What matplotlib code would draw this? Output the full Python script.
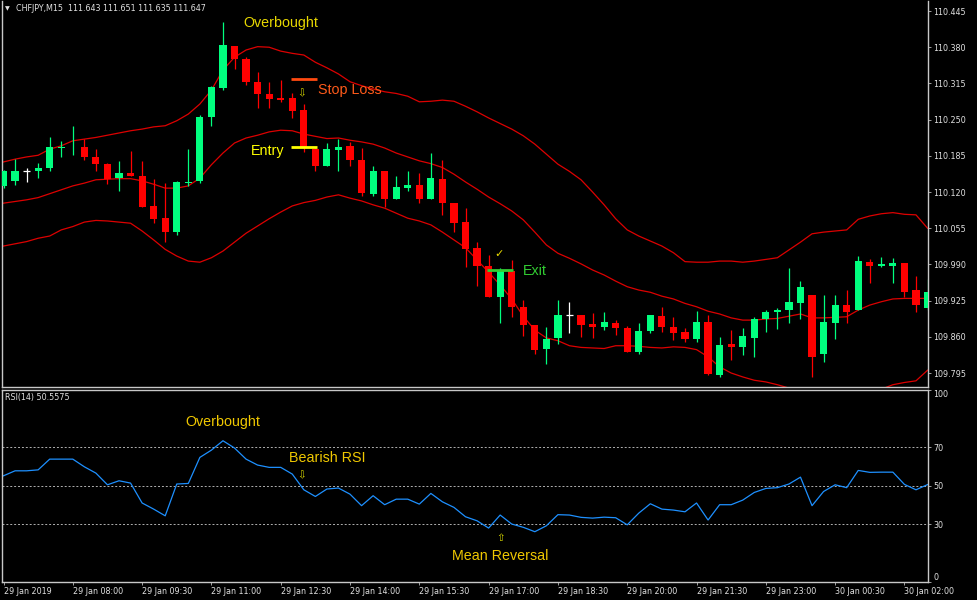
import numpy as np
import matplotlib.pyplot as plt

# CHFJPY M15 candles (open, high, low, close), bar 0 = 29 Jan 06:30
opens = [110.131, 110.139, 110.158, 110.157, 110.164, 110.199, 110.200, 110.201, 110.183, 110.171,
         110.146, 110.155, 110.149, 110.095, 110.073, 110.049, 110.137, 110.139, 110.255, 110.306,
         110.383, 110.359, 110.318, 110.296, 110.288, 110.288, 110.267, 110.197, 110.167, 110.196,
         110.203, 110.178, 110.116, 110.158, 110.107, 110.128, 110.133, 110.107, 110.143, 110.100,
         110.067, 110.020, 109.987, 109.932, 109.978, 109.913, 109.881, 109.838, 109.857, 109.899,
         109.899, 109.883, 109.878, 109.885, 109.876, 109.833, 109.871, 109.898, 109.877, 109.869,
         109.856, 109.887, 109.792, 109.847, 109.842, 109.858, 109.892, 109.904, 109.908, 109.921,
         109.935, 109.830, 109.885, 109.917, 109.908, 109.994, 109.988, 109.988, 109.992, 109.944,
         109.911]
highs = [110.160, 110.179, 110.163, 110.172, 110.219, 110.212, 110.239, 110.215, 110.197, 110.172,
         110.176, 110.194, 110.176, 110.143, 110.136, 110.140, 110.197, 110.258, 110.310, 110.426,
         110.383, 110.363, 110.336, 110.318, 110.322, 110.297, 110.278, 110.199, 110.208, 110.215,
         110.210, 110.199, 110.166, 110.158, 110.149, 110.158, 110.154, 110.190, 110.177, 110.100,
         110.092, 110.031, 110.007, 109.983, 109.998, 109.926, 109.881, 109.878, 109.927, 109.922,
         109.899, 109.903, 109.904, 109.891, 109.879, 109.885, 109.899, 109.914, 109.896, 109.876,
         109.906, 109.899, 109.860, 109.872, 109.875, 109.896, 109.908, 109.911, 109.983, 109.960,
         109.935, 109.935, 109.935, 109.944, 110.006, 110.000, 110.003, 110.001, 109.992, 109.969,
         109.964]
lows = [110.127, 110.133, 110.138, 110.145, 110.157, 110.183, 110.186, 110.177, 110.158, 110.134,
        110.121, 110.148, 110.093, 110.064, 110.031, 110.042, 110.130, 110.136, 110.239, 110.303,
        110.341, 110.312, 110.271, 110.271, 110.282, 110.253, 110.191, 110.158, 110.166, 110.158,
        110.166, 110.112, 110.112, 110.094, 110.107, 110.122, 110.101, 110.107, 110.079, 110.049,
        109.986, 109.951, 109.932, 109.884, 109.896, 109.862, 109.830, 109.811, 109.848, 109.866,
        109.859, 109.857, 109.872, 109.863, 109.833, 109.829, 109.866, 109.869, 109.854, 109.851,
        109.851, 109.791, 109.787, 109.818, 109.827, 109.824, 109.869, 109.874, 109.885, 109.892,
        109.787, 109.815, 109.856, 109.885, 109.908, 109.956, 109.986, 109.957, 109.932, 109.905,
        109.908]
closes = [110.157, 110.157, 110.158, 110.163, 110.200, 110.201, 110.201, 110.183, 110.171, 110.143,
          110.155, 110.149, 110.093, 110.071, 110.049, 110.138, 110.138, 110.255, 110.308, 110.384,
          110.359, 110.318, 110.296, 110.287, 110.285, 110.266, 110.200, 110.166, 110.197, 110.200,
          110.178, 110.118, 110.158, 110.107, 110.129, 110.133, 110.108, 110.146, 110.101, 110.065,
          110.017, 109.987, 109.932, 109.978, 109.913, 109.881, 109.836, 109.856, 109.899, 109.899,
          109.881, 109.878, 109.886, 109.875, 109.833, 109.871, 109.899, 109.877, 109.866, 109.856,
          109.887, 109.794, 109.845, 109.842, 109.861, 109.892, 109.904, 109.909, 109.922, 109.950,
          109.824, 109.887, 109.918, 109.904, 109.996, 109.988, 109.991, 109.992, 109.941, 109.918,
          109.941]

# Bollinger bands as drawn
bb_upper = [110.174, 110.179, 110.183, 110.186, 110.197, 110.203, 110.212, 110.215, 110.218, 110.222,
            110.226, 110.230, 110.233, 110.237, 110.239, 110.248, 110.260, 110.278, 110.303, 110.339,
            110.362, 110.375, 110.381, 110.380, 110.373, 110.369, 110.366, 110.353, 110.343, 110.332,
            110.318, 110.311, 110.305, 110.300, 110.297, 110.292, 110.282, 110.283, 110.285, 110.283,
            110.274, 110.264, 110.253, 110.243, 110.233, 110.221, 110.206, 110.188, 110.170, 110.157,
            110.142, 110.120, 110.097, 110.072, 110.052, 110.041, 110.032, 110.023, 110.011, 109.995,
            109.994, 109.994, 109.996, 109.996, 109.994, 109.996, 109.999, 110.002, 110.016, 110.030,
            110.045, 110.048, 110.050, 110.052, 110.071, 110.077, 110.081, 110.083, 110.080, 110.079,
            110.055]
bb_middle = [110.100, 110.103, 110.106, 110.110, 110.117, 110.124, 110.131, 110.136, 110.142, 110.143,
             110.144, 110.144, 110.140, 110.134, 110.127, 110.127, 110.131, 110.145, 110.169, 110.190,
             110.208, 110.217, 110.222, 110.228, 110.231, 110.230, 110.224, 110.220, 110.216, 110.217,
             110.213, 110.210, 110.206, 110.199, 110.190, 110.183, 110.176, 110.171, 110.164, 110.152,
             110.138, 110.125, 110.111, 110.099, 110.086, 110.070, 110.048, 110.025, 110.010, 110.001,
             109.991, 109.980, 109.971, 109.960, 109.950, 109.944, 109.940, 109.933, 109.928, 109.920,
             109.914, 109.906, 109.901, 109.894, 109.890, 109.890, 109.892, 109.893, 109.897, 109.901,
             109.894, 109.894, 109.895, 109.896, 109.908, 109.917, 109.923, 109.928, 109.929, 109.929,
             109.929]
bb_lower = [110.023, 110.027, 110.031, 110.037, 110.041, 110.052, 110.058, 110.066, 110.069, 110.068,
            110.066, 110.064, 110.050, 110.034, 110.017, 110.005, 109.996, 109.994, 110.002, 110.014,
            110.030, 110.046, 110.059, 110.072, 110.084, 110.095, 110.101, 110.105, 110.111, 110.115,
            110.109, 110.104, 110.097, 110.091, 110.082, 110.073, 110.068, 110.061, 110.048, 110.034,
            110.020, 109.998, 109.976, 109.953, 109.928, 109.897, 109.872, 109.858, 109.853, 109.844,
            109.841, 109.840, 109.839, 109.844, 109.844, 109.843, 109.841, 109.840, 109.842, 109.841,
            109.837, 109.824, 109.806, 109.795, 109.788, 109.782, 109.779, 109.774, 109.768, 109.763,
            109.756, 109.752, 109.750, 109.750, 109.754, 109.761, 109.766, 109.774, 109.778, 109.781,
            109.800]

rsi = [55.2, 57.8, 57.8, 58.3, 63.9, 63.9, 63.9, 59.9, 56.6, 50.5,
       52.6, 51.4, 41.0, 37.8, 34.3, 50.9, 51.2, 64.8, 68.6, 73.5,
       69.7, 63.9, 60.8, 59.6, 59.6, 56.1, 47.9, 44.4, 48.3, 48.8,
       45.6, 39.6, 44.8, 40.1, 43.0, 43.0, 40.4, 46.0, 41.6, 38.7,
       33.8, 31.7, 27.9, 34.7, 30.0, 28.3, 26.0, 29.1, 34.9, 34.7,
       33.5, 33.1, 33.6, 33.3, 29.6, 35.7, 40.6, 37.8, 37.3, 36.4,
       41.0, 32.1, 40.1, 40.1, 42.5, 46.5, 48.6, 49.0, 50.9, 54.5,
       39.6, 47.0, 50.5, 49.0, 58.0, 57.0, 57.1, 57.1, 50.7, 47.9,
       50.6]

price_ticks = [110.445, 110.380, 110.315, 110.250, 110.185, 110.120,
               110.055, 109.990, 109.925, 109.860, 109.795]
time_tick_bars = [0, 6, 12, 18, 24, 30, 36, 42, 48, 54, 60, 66, 72, 78]
time_labels = ['29 Jan 2019', '29 Jan 08:00', '29 Jan 09:30', '29 Jan 11:00', '29 Jan 12:30',
               '29 Jan 14:00', '29 Jan 15:30', '29 Jan 17:00', '29 Jan 18:30', '29 Jan 20:00',
               '29 Jan 21:30', '29 Jan 23:00', '30 Jan 00:30', '30 Jan 02:00']

stop_loss = 110.323
entry_price = 110.200
entry_bar = 26
exit_price = 109.980
exit_bar = 43

BULL = '#00ff7f'
BEAR = '#ff0000'
GRID = '#c8c8c8'
TXT = '#e0e0e0'
ANN = ['Liberation Sans', 'DejaVu Sans']

W, H = 977, 600
fig = plt.figure(figsize=(W / 100, H / 100), dpi=100, facecolor='black')


def box(l, t, r, b):
    return [l / W, 1 - b / H, (r - l) / W, (b - t) / H]


ax = fig.add_axes(box(2, 1, 928, 387))
ax2 = fig.add_axes(box(2, 390, 928, 581.5))

x = np.arange(len(opens))
for a in (ax, ax2):
    a.set_facecolor('black')
    a.set_xlim(-0.13, 80.04)
    for s in a.spines.values():
        s.set_color(GRID)
        s.set_linewidth(1)
    a.yaxis.tick_right()
    a.tick_params(axis='y', colors='#a0a0a0', labelcolor=TXT, labelsize=5.8,
                  length=2.2, width=0.7, pad=1.5)
ax.spines['top'].set_visible(False)

# Bollinger bands
for band in (bb_upper, bb_middle, bb_lower):
    ax.plot(x, band, color='#dd0000', lw=0.9, zorder=1)

# candles
for i in x:
    o, h, l, c = opens[i], highs[i], lows[i], closes[i]
    if o == c:
        col = 'white'
    else:
        col = BULL if c > o else BEAR
    ax.vlines(i, l, h, color=col, lw=0.9, zorder=2)
    if o == c:
        ax.hlines(o, i - 0.31, i + 0.31, color=col, lw=0.9, zorder=3)
    else:
        ax.bar(i, max(abs(c - o), 0.0016), bottom=min(o, c), width=0.62,
               color=col, linewidth=0, zorder=3)

ax.set_ylim(109.7699, 110.4630)
ax.set_yticks(price_ticks)
ax.set_yticklabels([f'{p:.3f}' for p in price_ticks], family='DejaVu Sans')
ax.set_xticks([])

# trade markers
ax.hlines(stop_loss, entry_bar - 1.1, entry_bar + 1.1, color='#ff4a10', lw=2, zorder=4)
ax.hlines(entry_price, entry_bar - 1.1, entry_bar + 1.1, color='#ffff00', lw=2, zorder=4)
ax.hlines(exit_price, exit_bar - 1.1, exit_bar + 1.1, color='#32cd32', lw=2, zorder=4)

ax.text(24.0, 110.424, 'Overbought', color='#e8d800', fontsize=10.3, family=ANN,
        ha='center', va='center')
ax.text(27.25, 110.303, 'Stop Loss', color='#ff5a1a', fontsize=10.3, family=ANN,
        ha='left', va='center')
ax.text(24.3, 110.193, 'Entry', color='#ffff00', fontsize=10.3, family=ANN,
        ha='right', va='center')
ax.text(45.0, 109.978, 'Exit', color='#32cd32', fontsize=10.3, family=ANN,
        ha='left', va='center')
ax.text(25.84, 110.298, '\u21e9', color='#d8d800', fontsize=7.5, family='DejaVu Sans',
        ha='center', va='center')
ax.text(42.9, 110.009, '\u2713', color='#e8d800', fontsize=8, family='DejaVu Sans',
        ha='center', va='center')

fig.text(7 / W, 1 - 8.5 / H, '\u25bc', color=TXT, fontsize=4.5, family='DejaVu Sans',
         ha='center', va='center')
fig.text(16 / W, 1 - 8.5 / H, 'CHFJPY,M15  111.643 111.651 111.635 111.647', color=TXT,
         fontsize=5.8, family='DejaVu Sans', ha='left', va='center')

# RSI panel
ax2.plot(x, rsi, color='#1e90ff', lw=0.9, zorder=2)
for lvl in (30, 50, 70):
    ax2.axhline(lvl, color='#b0b0b0', lw=0.7, ls=(0, (2, 2)), zorder=1)
ax2.set_ylim(0, 100)
ax2.set_yticks([0, 30, 50, 70, 100])
ax2.set_yticklabels(['0', '30', '50', '70', '100'], family='DejaVu Sans')
ylabs = ax2.get_yticklabels()
ylabs[0].set_va('bottom')
ylabs[-1].set_va('top')

ax2.set_xticks(time_tick_bars)
ax2.set_xticklabels(time_labels, family='DejaVu Sans')
ax2.tick_params(axis='x', colors='#a0a0a0', labelcolor=TXT, labelsize=5.8,
                length=2.2, width=0.7, pad=1.5)
for lbl in ax2.get_xticklabels():
    lbl.set_ha('left')

ax2.text(0.0035, 0.985, 'RSI(14) 50.5575', transform=ax2.transAxes, color=TXT,
         fontsize=5.8, family='DejaVu Sans', ha='left', va='top')
ax2.text(18.98, 83.4, 'Overbought', color='#f0c800', fontsize=10.3, family=ANN,
         ha='center', va='center')
ax2.text(24.74, 64.6, 'Bearish RSI', color='#f0c800', fontsize=10.3, family=ANN,
         ha='left', va='center')
ax2.text(25.84, 55.6, '\u21e9', color='#d8d800', fontsize=7.5, family='DejaVu Sans',
         ha='center', va='center')
ax2.text(43.0, 13.3, 'Mean Reversal', color='#f0c800', fontsize=10.3, family=ANN,
         ha='center', va='center')
ax2.text(43.0, 22.9, '\u21e7', color='#d8d800', fontsize=7.5, family='DejaVu Sans',
         ha='center', va='center')

fig.savefig('out.png', dpi=100, facecolor='black')
